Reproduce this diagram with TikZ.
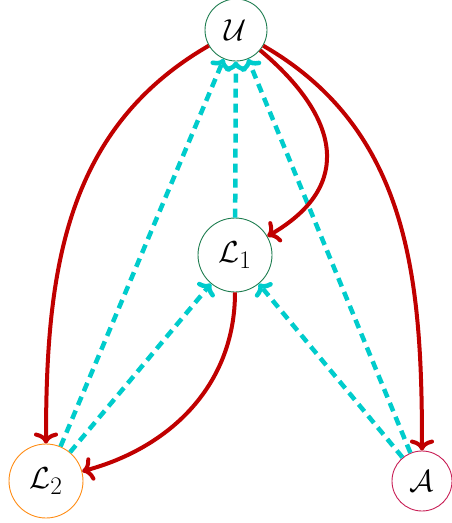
\documentclass[tikz,border=0pt]{standalone}
\usepackage{graphicx}
\usetikzlibrary{arrows.meta}
\definecolor{ngreen}{RGB}{30,125,80}
\definecolor{norange}{RGB}{255,140,20}
\definecolor{ncrimson}{RGB}{200,30,85}
\definecolor{ared}{RGB}{192,0,0}
\definecolor{acyan}{RGB}{0,204,204}
\newcommand{\bigtxt}[1]{\scalebox{1.22}{$#1$}}
\begin{document}
\begin{tikzpicture}[x=1pt,y=-1pt,
  vnode/.style={circle, draw, line width=0.9pt, inner sep=0pt, font=\Huge, fill=white},
  redarrow/.style={draw=ared, line width=4pt, -{To[length=11pt,width=24pt]}},
  cyanarrow/.style={draw=acyan, line width=4.5pt, dash pattern=on 9pt off 6pt, -{To[length=10pt,width=22pt]}}]
\useasboundingbox (0,0) rectangle (451,523);
\node[vnode, draw=ngreen, minimum size=62pt] (U) at (236,30) {\bigtxt{\mathcal{U}}};
\node[vnode, draw=ngreen, minimum size=74pt] (L1) at (235,255) {\bigtxt{\mathcal{L}_1}};
\node[vnode, draw=norange, minimum size=74pt] (L2) at (46,481) {\bigtxt{\mathcal{L}_2}};
\node[vnode, draw=ncrimson, minimum size=60pt] (A) at (422,481) {\bigtxt{\mathcal{A}}};
\draw[cyanarrow] (L2) -- (U);
\draw[cyanarrow] (L2) -- (L1);
\draw[cyanarrow] (A) -- (U);
\draw[cyanarrow] (A) -- (L1);
\draw[cyanarrow] (L1) -- (U);
\draw[redarrow] (U) to[out=-150, in=90] (L2);
\draw[redarrow] (U) to[out=-30, in=90] (A);
\draw[redarrow] (U) to[out=-40, in=30, looseness=1.4] (L1);
\draw[redarrow] (L1) to[out=-90, in=15] (L2);
\end{tikzpicture}
\end{document}
